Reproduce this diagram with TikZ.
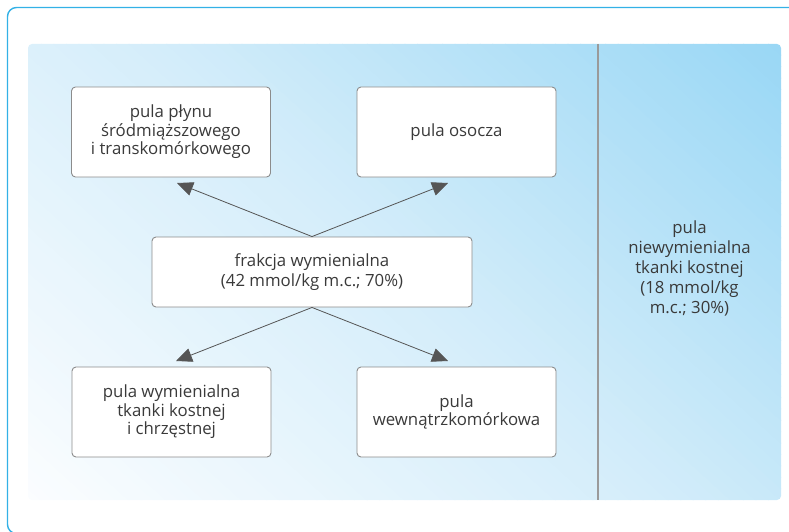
\documentclass[tikz,border=0pt]{standalone}
\usepackage{fontspec}
\setmainfont{Open Sans}
\usetikzlibrary{arrows.meta}
\definecolor{framecol}{HTML}{33B1E6}
\definecolor{panellow}{HTML}{FBFDFF}
\definecolor{panelmid}{HTML}{D4EDFA}
\definecolor{panelblue}{HTML}{99D7F5}
\definecolor{txt}{HTML}{3A3A3A}
\definecolor{boxline}{HTML}{8C8C8C}
\definecolor{divline}{HTML}{9A9A9A}
\definecolor{arrowcol}{HTML}{555555}
\begin{document}
\begin{tikzpicture}[x=1pt,y=-1pt,
  pool/.style={draw=boxline, line width=0.9pt, fill=white, rounded corners=4pt,
    minimum width=199pt, minimum height=90pt, align=center, text=txt,
    font=\fontsize{16.8}{18.5}\selectfont, inner sep=0pt},
  label/.style={align=center, text=txt, font=\fontsize{16.8}{20}\selectfont},
  link/.style={draw=arrowcol, line width=0.8pt, -{Triangle[length=16pt,width=14pt]}}]
\useasboundingbox (0,0) rectangle (789,532);
% outer frame, running off the page to the right and bottom
\begin{scope}
  \clip (0,0) rectangle (789,532);
  \draw[framecol, line width=1.4pt, rounded corners=9pt] (7.5,7.5) rectangle (830,533.5);
\end{scope}
% background panel: diagonal gradient from the lower left to the upper right,
% built from narrow bands across the gradient axis
\begin{scope}
  \clip[rounded corners=4pt] (28,44) rectangle (781,500);
  \begin{scope}[shift={(404.5,272)}, rotate=47.7]
    \foreach \i in {0,...,49}{
      \pgfmathsetmacro\bandpos{-422+8.44*\i}
      \pgfmathtruncatemacro\bandpct{round((\i+0.5)*2)}
      \fill[panelmid!\bandpct!panellow] (\bandpos,-500) rectangle ({\bandpos+9},500);
    }
    \foreach \i in {0,...,49}{
      \pgfmathsetmacro\bandpos{8.44*\i}
      \pgfmathtruncatemacro\bandpct{round((\i+0.5)*2)}
      \fill[panelblue!\bandpct!panelmid] (\bandpos,-500) rectangle ({\bandpos+9},500);
    }
  \end{scope}
\end{scope}
% divider between the exchangeable and non-exchangeable parts
\draw[divline, line width=1.5pt] (598,44) -- (598,500);

% pools
\node[pool] (plyn) at (171,132) {pula płynu\\śródmiąższowego\\i transkomórkowego};
\node[pool] (osocze) at (456.5,132) {pula osocza};
\node[pool, minimum width=320pt, minimum height=70pt, font=\fontsize{16.8}{20}\selectfont] (frakcja) at (312,272)
  {frakcja wymienialna\\(42 mmol/kg m.c.; 70\%)};
\node[pool] (kosc) at (171.5,412) {pula wymienialna\\tkanki kostnej\\i chrzęstnej};
\node[pool] (kom) at (456.5,412) {pula\\wewnątrzkomórkowa};
\node[label] (niewym) at (689.5,268)
  {pula\\niewymienialna\\tkanki kostnej\\(18 mmol/kg\\m.c.; 30\%)};

% arrow ends
\coordinate (tipA) at (177,183);
\coordinate (tipB) at (448,183);
\coordinate (tipC) at (176,361);
\coordinate (tipD) at (448,361);

\draw[link] (frakcja.north) -- (tipA);
\draw[link] (frakcja.north) -- (tipB);
\draw[link] (frakcja.south) -- (tipC);
\draw[link] (frakcja.south) -- (tipD);
\end{tikzpicture}
\end{document}
